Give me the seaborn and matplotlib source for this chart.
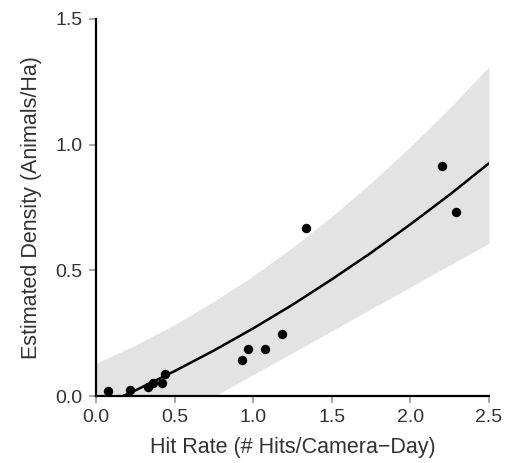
import numpy as np
import pandas as pd
import matplotlib
matplotlib.use("Agg")
import matplotlib.pyplot as plt
import seaborn as sns

# Observed points
hit_rate = [0.078, 0.216, 0.333, 0.365, 0.418, 0.439, 0.931, 0.965, 1.073, 1.183, 1.336, 2.20, 2.29]
density = [0.021, 0.022, 0.035, 0.053, 0.053, 0.088, 0.143, 0.186, 0.186, 0.247, 0.668, 0.915, 0.732]

# Fitted curve and band, read at regular x positions
curve_x = [0.0, 0.25, 0.5, 0.75, 1.0, 1.25, 1.5, 1.75, 2.0, 2.25, 2.5]
curve_fit = [-0.048, 0.022, 0.099, 0.181, 0.269, 0.363, 0.464, 0.570, 0.683, 0.801, 0.926]
curve_upper = [0.130, 0.202, 0.284, 0.376, 0.478, 0.591, 0.714, 0.848, 0.992, 1.146, 1.310]
curve_lower = [-0.264, -0.177, -0.090, -0.002, 0.085, 0.172, 0.259, 0.347, 0.434, 0.521, 0.608]

x_ticks = [0.0, 0.5, 1.0, 1.5, 2.0, 2.5]
y_ticks = [0.0, 0.5, 1.0, 1.5]

sns.set_theme(style="ticks")
plt.rcParams['font.family'] = ['Liberation Sans', 'DejaVu Sans']

fig = plt.figure(figsize=(5.10, 4.63), dpi=100)
ax = fig.add_axes([0.1882, 0.1447, 0.9588 - 0.1882, 0.959 - 0.1447])

ax.fill_between(curve_x, curve_lower, curve_upper, color="#e3e3e3", linewidth=0, zorder=1)
sns.lineplot(x=curve_x, y=curve_fit, ax=ax, color="black", linewidth=1.8, zorder=2)
df = pd.DataFrame({"x": hit_rate, "y": density})
sns.scatterplot(data=df, x="x", y="y", ax=ax, color="black", s=46, edgecolor="black",
                linewidth=0, zorder=3, clip_on=False)

ax.set_xlim(0, 2.5)
ax.set_ylim(0, 1.5)
ax.set_xticks(x_ticks)
ax.set_yticks(y_ticks)
ax.set_xticklabels([f"{v:.1f}" for v in x_ticks])
ax.set_yticklabels([f"{v:.1f}" for v in y_ticks])

for side in ["top", "right"]:
    ax.spines[side].set_visible(False)
for side in ["left", "bottom"]:
    ax.spines[side].set_color("black")
    ax.spines[side].set_linewidth(1.6)
    ax.spines[side].set_zorder(4)

ax.tick_params(axis="both", direction="out", length=5, width=1.2, color="#999999",
               labelsize=14, labelcolor="#333333", pad=4.5)
ax.set_xlabel("Hit Rate (# Hits/Camera\u2212Day)", fontsize=15.5, color="#333333", labelpad=8)
ax.set_ylabel("Estimated Density (Animals/Ha)", fontsize=15.5, color="#333333", labelpad=10)

fig.savefig("out.png", dpi=100)
